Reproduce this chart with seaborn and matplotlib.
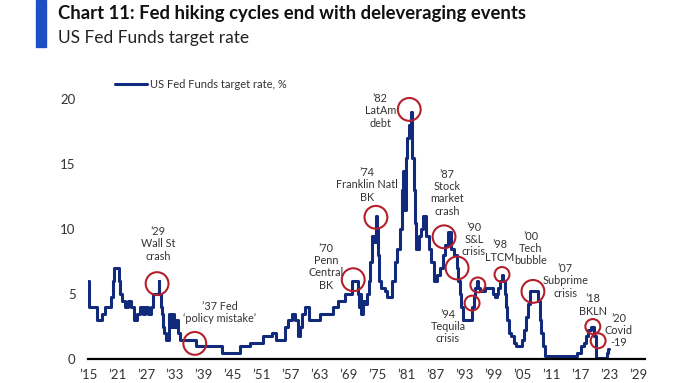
"""
Chart 11: Fed hiking cycles end with deleveraging events.

US Fed Funds target rate since 1915, with the stress events circled.
"""

import matplotlib.pyplot as plt
import pandas as pd
import seaborn as sns
from matplotlib.patches import Rectangle

# -----------------------------
# Data
# -----------------------------

YEARS = [
    1915.0, 1915.2, 1916.9, 1917.9, 1918.5, 1919.8, 1920.1, 1920.3, 1921.4, 1921.7,
    1922.1, 1922.7, 1923.3, 1924.0, 1924.5, 1925.2, 1925.8, 1926.3, 1926.8, 1927.5,
    1928.0, 1928.4, 1929.6, 1929.8, 1930.1, 1930.3, 1930.5, 1930.8, 1931.2, 1931.7,
    1932.1, 1932.5, 1932.8, 1933.2, 1933.6, 1934.0, 1937.4, 1942.8, 1946.5, 1948.5,
    1951.2, 1953.0, 1954.0, 1955.8, 1956.5, 1957.2, 1957.9, 1958.5, 1958.9, 1959.4,
    1959.9, 1960.8, 1963.1, 1965.7, 1966.8, 1968.2, 1969.6, 1970.8, 1971.0, 1971.3,
    1971.6, 1971.9, 1972.4, 1972.8, 1973.1, 1973.4, 1973.7, 1974.2, 1974.6, 1974.8,
    1975.0, 1975.3, 1975.7, 1976.5, 1976.9, 1978.0, 1978.5, 1979.0, 1979.5, 1979.9,
    1980.2, 1980.5, 1980.8, 1981.1, 1981.5, 1981.8, 1982.1, 1982.4, 1982.7, 1983.0,
    1983.5, 1984.0, 1984.4, 1984.9, 1985.5, 1986.1, 1986.7, 1987.3, 1987.9, 1988.5,
    1989.0, 1989.5, 1990.2, 1990.8, 1991.4, 1991.6, 1992.0, 1992.3, 1992.6, 1994.5,
    1994.8, 1995.2, 1995.5, 1995.8, 1996.2, 1997.2, 1998.9, 1999.2, 1999.6, 1999.9,
    2000.3, 2000.6, 2001.0, 2001.3, 2001.5, 2001.8, 2002.1, 2002.5, 2003.1, 2003.7,
    2004.9, 2005.2, 2005.6, 2006.0, 2006.4, 2008.2, 2008.5, 2008.8, 2009.2, 2009.5,
    2016.2, 2017.1, 2017.6, 2018.1, 2018.6, 2019.2, 2019.8, 2020.2, 2022.4, 2022.6,
    2022.8,
]
RATES = [
    6.0, 4.0, 3.0, 3.5, 4.0, 4.75, 6.0, 7.0, 6.0, 5.0,
    4.5, 4.0, 4.5, 4.0, 3.0, 3.5, 4.0, 3.5, 4.0, 3.5,
    4.0, 5.0, 6.0, 5.0, 4.0, 3.5, 2.5, 2.0, 1.5, 3.5,
    2.5, 3.5, 2.5, 3.0, 2.0, 1.5, 1.0, 0.5, 1.0, 1.25,
    1.75, 2.0, 1.5, 2.5, 3.0, 3.5, 3.0, 1.75, 2.5, 3.5,
    4.0, 3.0, 3.5, 4.0, 4.5, 5.0, 6.0, 5.0, 4.0, 5.0,
    3.5, 4.5, 4.25, 5.0, 6.0, 7.5, 9.5, 9.0, 11.0, 10.0,
    8.0, 6.0, 5.5, 5.25, 4.75, 6.0, 7.5, 8.5, 10.0, 13.0,
    14.5, 11.5, 15.5, 17.0, 18.0, 19.0, 15.5, 13.0, 10.5, 8.5,
    9.5, 10.0, 11.0, 9.5, 8.5, 7.5, 6.0, 6.5, 7.0, 8.0,
    8.75, 9.75, 8.5, 8.0, 7.0, 6.0, 5.0, 4.0, 3.0, 4.0,
    4.75, 5.5, 6.0, 5.5, 5.25, 5.5, 5.0, 4.75, 5.0, 5.5,
    6.0, 6.5, 6.0, 5.0, 4.0, 3.0, 2.0, 1.75, 1.25, 1.0,
    1.5, 2.25, 3.25, 4.25, 5.25, 4.5, 3.0, 2.0, 1.0, 0.25,
    0.5, 1.0, 1.25, 1.75, 2.25, 2.5, 1.75, 0.1, 0.5, 0.75,
    0.75,
]

# circled points on the line
CIRCLE_YEARS = [1929.3, 1937.1, 1969.9, 1974.6, 1981.5, 1988.7, 1991.4,
                1994.5, 1995.7, 2000.7, 2007.1, 2019.5, 2020.6]
CIRCLE_RATES = [5.8, 1.2, 6.1, 10.9, 19.2, 9.4, 7.0,
                4.3, 5.7, 6.5, 5.2, 2.5, 1.4]
CIRCLE_BIG = [True, True, True, True, True, True, True,
              False, False, False, True, False, False]

EVENT_LABELS = [
    "’29\nWall St\ncrash",
    "’37 Fed\n‘policy mistake’",
    "’70\nPenn\nCentral\nBK",
    "’74\nFranklin Natl\nBK",
    "’82\nLatAm\ndebt",
    "’87\nStock\nmarket\ncrash",
    "’90\nS&L\ncrisis",
    "’94\nTequila\ncrisis",
    "’98\nLTCM",
    "’00\nTech\nbubble",
    "’07\nSubprime\ncrisis",
    "’18\nBKLN",
    "’20\nCovid\n-19",
]
LABEL_X = [1929.5, 1942.3, 1964.3, 1972.8, 1975.5, 1989.3, 1994.9,
           1989.5, 2000.2, 2006.7, 2013.8, 2019.5, 2024.9]
LABEL_Y = [8.85, 3.6, 7.1, 13.4, 19.1, 12.8, 9.2,
           2.5, 8.3, 8.5, 6.0, 4.15, 2.2]

X_TICKS = list(range(1915, 2030, 6))
X_TICK_LABELS = ["’15", "’21", "’27", "’33", "’39", "’45", "’51", "’57", "’63", "’69",
                 "’75", "’81", "’87", "’93", "’99", "’05", "’11", "’17", "’23", "’29"]
Y_TICKS = [0, 5, 10, 15, 20]

TITLE = "Chart 11: Fed hiking cycles end with deleveraging events"
SUBTITLE = "US Fed Funds target rate"
SERIES_NAME = "US Fed Funds target rate, %"

# -----------------------------
# Style
# -----------------------------

LINE_COLOR = "#122a7c"
CIRCLE_COLOR = "#b3202c"
BAR_COLOR = "#1d4fc4"
TEXT_COLOR = "#333333"

W, H = 680, 383

sns.set_theme(style="white")
plt.rcParams["font.family"] = ["Lato", "DejaVu Sans"]


def main() -> None:
    df = pd.DataFrame({"year": YEARS, "rate": RATES})

    fig = plt.figure(figsize=(W / 100, H / 100), dpi=100)
    ax = fig.add_axes([88 / W, 1 - 359 / H, (645 - 88) / W, (359 - 73) / H])

    sns.lineplot(data=df, x="year", y="rate", ax=ax, color=LINE_COLOR,
                 linewidth=2.2, drawstyle="steps-post", estimator=None,
                 label=SERIES_NAME)

    # red rings round the stress events
    sizes = [270 if big else 115 for big in CIRCLE_BIG]
    ax.scatter(CIRCLE_YEARS, CIRCLE_RATES, s=sizes, facecolors="none",
               edgecolors=CIRCLE_COLOR, linewidths=1.5, zorder=4)

    for text, x, y in zip(EVENT_LABELS, LABEL_X, LABEL_Y):
        ax.text(x, y, text, ha="center", va="center", fontsize=7.8,
                color=TEXT_COLOR, linespacing=1.15, zorder=5)

    ax.set_xlim(1915, 2030.3)
    ax.set_ylim(0, 22)
    ax.set_xticks(X_TICKS, X_TICK_LABELS)
    ax.set_yticks(Y_TICKS, [str(v) for v in Y_TICKS])
    ax.tick_params(axis="both", length=0, labelsize=9.5, colors=TEXT_COLOR)
    ax.tick_params(axis="x", pad=7)
    ax.tick_params(axis="y", pad=9)
    ax.set_xlabel("")
    ax.set_ylabel("")

    for side in ("top", "right", "left"):
        ax.spines[side].set_visible(False)
    ax.spines["bottom"].set_color("black")
    ax.spines["bottom"].set_linewidth(1.6)

    ax.legend(loc="center left", bbox_to_anchor=(115 / W, 1 - 84 / H),
              bbox_transform=fig.transFigure, frameon=False, fontsize=8,
              handlelength=2.9, handletextpad=0.25, borderpad=0,
              borderaxespad=0, labelcolor=TEXT_COLOR)

    # header: blue bar, title and subtitle
    fig.patches.append(Rectangle((36 / W, 1 - 47 / H), 10 / W, 47 / H,
                                 transform=fig.transFigure, color=BAR_COLOR))
    fig.text(58 / W, 1 - 13 / H, TITLE, fontsize=13.3, fontweight="bold",
             color="#111111", va="center")
    fig.text(58 / W, 1 - 38 / H, SUBTITLE, fontsize=12.5, fontweight="normal",
             color="#222222", va="center")

    fig.savefig("out.png", dpi=100)
    plt.close(fig)


if __name__ == "__main__":
    main()
